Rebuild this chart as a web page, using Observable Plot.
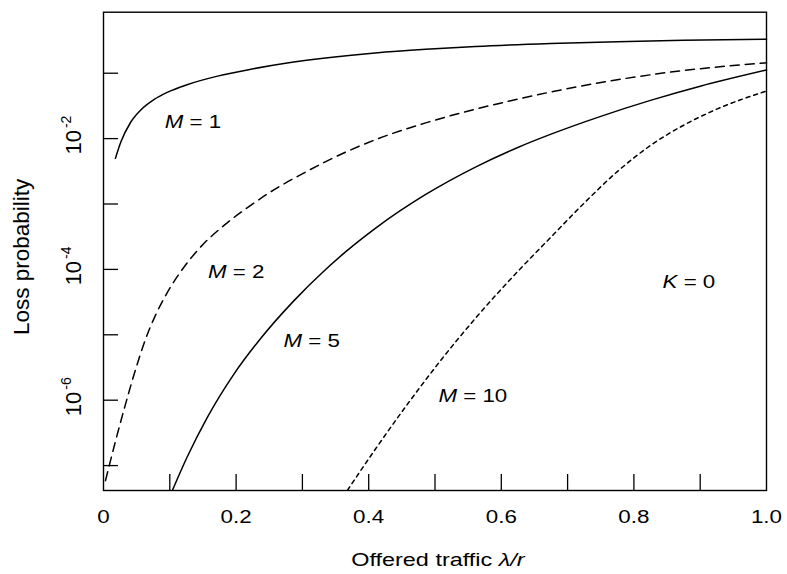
<!DOCTYPE html>
<html>
<head>
<meta charset="utf-8">
<script src="https://cdn.jsdelivr.net/npm/d3@7"></script>
<script src="https://cdn.jsdelivr.net/npm/@observablehq/plot@0.6"></script>
<style>
  html, body { margin: 0; padding: 0; background: #fff; }
  #chart svg { display: block; }
</style>
</head>
<body>
<div id="chart"></div>
<script>
// ---- data ----
const xTickVals = [0.1, 0.2, 0.3, 0.4, 0.5, 0.6, 0.7, 0.8, 0.9];
const xLabelVals = [0, 0.2, 0.4, 0.6, 0.8, 1.0];
const xLabelTexts = ["0", "0.2", "0.4", "0.6", "0.8", "1.0"];
const yTickVals = [1e-1, 1e-2, 1e-3, 1e-4, 1e-5, 1e-6, 1e-7];
const yLabelVals = [1e-2, 1e-4, 1e-6];
const yLabelExps = ["-2", "-4", "-6"];
const xTitle = "Offered traffic λ/r";
const yTitle = "Loss probability";

const m1X = [0.018, 0.026, 0.041, 0.057, 0.076, 0.096, 0.126, 0.172, 0.222, 0.277, 0.335, 0.41, 0.486, 0.561, 0.674, 0.775, 0.875, 1.0];
const m1P = [5.0e-3, 8.8e-3, 1.78e-2, 2.79e-2, 3.95e-2, 5.09e-2, 6.67e-2, 9.02e-2, 0.115, 0.143, 0.171, 0.204, 0.232, 0.256, 0.284, 0.304, 0.318, 0.330];

const m2X = [0.003, 0.018, 0.033, 0.048, 0.063, 0.078, 0.096, 0.121, 0.147, 0.187, 0.222, 0.262, 0.297, 0.332, 0.41, 0.486, 0.561, 0.616, 0.68, 0.775, 0.875, 1.0];
const m2P = [5.89e-8, 2.34e-7, 8.55e-7, 2.86e-6, 8.36e-6, 1.95e-5, 4.38e-5, 1.07e-4, 2.23e-4, 5.20e-4, 9.53e-4, 1.77e-3, 2.79e-3, 4.29e-3, 9.62e-3, 1.74e-2, 2.82e-2, 3.83e-2, 5.30e-2, 7.94e-2, 0.110, 0.144];

const m5X = [0.104, 0.126, 0.156, 0.197, 0.237, 0.287, 0.335, 0.365, 0.41, 0.486, 0.561, 0.624, 0.674, 0.75, 0.825, 0.90, 1.0];
const m5P = [4.2e-8, 1.34e-7, 5.32e-7, 2.53e-6, 8.77e-6, 3.30e-5, 9.95e-5, 1.85e-4, 4.25e-4, 1.40e-3, 3.67e-3, 7.26e-3, 1.16e-2, 2.19e-2, 3.84e-2, 6.32e-2, 0.112];

const m10X = [0.368, 0.41, 0.46, 0.511, 0.561, 0.626, 0.677, 0.724, 0.775, 0.825, 0.875, 0.925, 1.0];
const m10P = [4.2e-8, 1.78e-7, 9.12e-7, 4.35e-6, 1.79e-5, 9.57e-5, 3.28e-4, 1.01e-3, 3.13e-3, 7.85e-3, 1.60e-2, 2.82e-2, 5.35e-2];

const labelNames = ["M = 1", "M = 2", "M = 5", "M = 10", "K = 0"];
const labelX = [0.135, 0.200, 0.314, 0.557, 0.883];
const labelP = [1.78e-2, 9.1e-5, 8.1e-6, 1.17e-6, 6.3e-5];

// ---- chart ----
const W = 787, H = 574;
const mL = 103, mR = 21, mT = 11.7, mB = 84;
const innerW = W - mL - mR, innerH = H - mT - mB;

const series = [
  {xs: m1X, ps: m1P, dash: null},
  {xs: m2X, ps: m2P, dash: "9,6"},
  {xs: m5X, ps: m5P, dash: null},
  {xs: m10X, ps: m10P, dash: "4,4"}
];

const lineMarks = series.map(s => Plot.line(
  s.xs.map((x, i) => ({x, p: s.ps[i]})),
  {x: "x", y: "p", stroke: "black", strokeWidth: 1.5, curve: "monotone-x",
   ...(s.dash ? {strokeDasharray: s.dash} : {})}
));

const svg = Plot.plot({
  width: W, height: H,
  marginLeft: mL, marginRight: mR, marginTop: mT, marginBottom: mB,
  style: {fontFamily: "'Liberation Sans', Arial, Helvetica, sans-serif", background: "white", color: "black"},
  x: {domain: [0, 1]},
  y: {type: "log", domain: [Math.pow(10, -7.381), Math.pow(10, -0.067)], axis: null},
  marks: [
    Plot.frame({stroke: "black", strokeWidth: 1.4}),
    Plot.ruleX(xTickVals, {x: d => d, stroke: "black", strokeWidth: 1.3, insetTop: innerH - 16}),
    Plot.ruleY(yTickVals, {y: d => d, stroke: "black", strokeWidth: 1.3, insetRight: innerW - 15}),
    Plot.axisX({ticks: xLabelVals, tickSize: 0, tickPadding: 20, fontSize: 17.5, label: null,
                tickFormat: (d) => xLabelTexts[xLabelVals.indexOf(d)]}),
    Plot.text(yLabelVals, {y: d => d, text: (d, i) => "10^" + yLabelExps[i], frameAnchor: "left",
                dx: -29.8, dy: -3.5, rotate: -90, fontSize: 22, textAnchor: "middle", lineAnchor: "middle"}),
    Plot.text([yTitle], {text: d => d, frameAnchor: "left", dx: -82, dy: 5.6, rotate: -90,
                fontSize: 22.5, textAnchor: "middle", lineAnchor: "middle"}),
    Plot.text([xTitle], {text: d => d, frameAnchor: "bottom", dx: 3, dy: 70, fontSize: 18.6,
                textAnchor: "middle", lineAnchor: "middle"}),
    ...lineMarks,
    Plot.text(labelNames, {x: (d, i) => labelX[i], y: (d, i) => labelP[i], text: d => d,
                fontSize: 18.6, textAnchor: "middle", lineAnchor: "middle"})
  ]
});

document.getElementById("chart").append(svg);

const root = d3.select(svg);

function stretch(el, k) {
  const b = el.getBBox();
  const cx = b.x + b.width / 2;
  const t = el.getAttribute("transform") || "";
  el.setAttribute("transform", `${t} translate(${cx},0) scale(${k},1) translate(${-cx},0)`);
}

const xTickTexts = new Set(root.selectAll('g[aria-label="x-axis tick label"] text').nodes());

root.selectAll("text").each(function () {
  const s = this.textContent;
  const sel = d3.select(this);
  if (xTickTexts.has(this)) {
    stretch(this, 1.28);
  } else if (s.includes("^")) {
    // superscript exponent
    const parts = s.split("^");
    this.textContent = parts[0];
    sel.append("tspan").attr("font-size", 14).attr("dx", 2).attr("dy", -9.5).text(parts[1]);
  } else if (labelNames.includes(s)) {
    this.textContent = "";
    sel.append("tspan").attr("font-style", "italic").text(s[0]);
    sel.append("tspan").text(s.slice(1));
    stretch(this, 1.2);
  } else if (s === xTitle) {
    const k = s.indexOf("λ");
    this.textContent = "";
    sel.append("tspan").text(s.slice(0, k));
    sel.append("tspan").attr("font-style", "italic").text(s.slice(k));
    stretch(this, 1.26);
  }
});
</script>
</body>
</html>
